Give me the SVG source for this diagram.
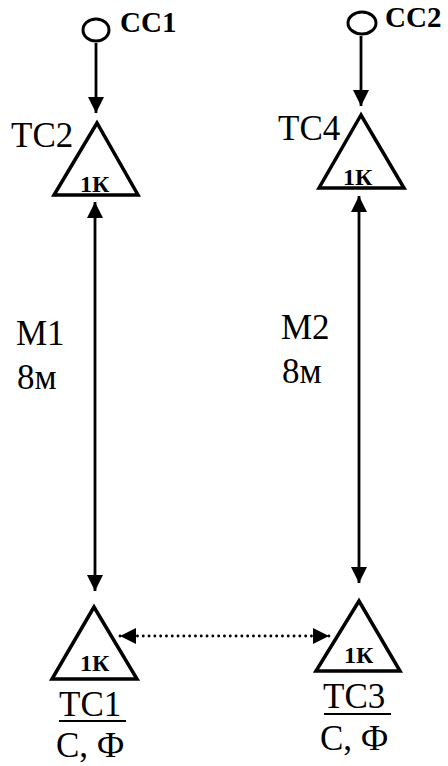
<svg xmlns="http://www.w3.org/2000/svg" width="448" height="766" viewBox="0 0 448 766">
<defs>
<marker id="ah" viewBox="0 0 16 16" refX="16" refY="8" markerWidth="16" markerHeight="16" markerUnits="userSpaceOnUse" orient="auto-start-reverse">
<path d="M0,0 L16,8 L0,16 Z" fill="#000"/>
</marker>
</defs>
<style>
.tri{fill:#fff;stroke:#000;stroke-width:3.5;stroke-linejoin:miter}
.src{fill:none;stroke:#000;stroke-width:3}
.ln{stroke:#000;stroke-width:2.8;fill:none}
.dot{stroke:#000;stroke-width:2.8;fill:none;stroke-dasharray:0.1 5.7;stroke-linecap:round}
text{font-family:'Liberation Serif','DejaVu Serif',serif;fill:#000}
.t{font-size:35px}
.b{font-weight:bold}
.k{font-size:24px}
.c{font-size:29px}
.u{stroke:#000;stroke-width:2}
</style>
<rect width="448" height="766" fill="#fff"/>
<g id="connectors">
<line class="ln" x1="96" y1="43" x2="96" y2="113" marker-end="url(#ah)"/>
<line class="ln" x1="361" y1="36" x2="361" y2="106" marker-end="url(#ah)"/>
<line class="ln" x1="95" y1="202" x2="95" y2="591" marker-start="url(#ah)" marker-end="url(#ah)"/>
<line class="ln" x1="359" y1="196" x2="359" y2="583" marker-start="url(#ah)" marker-end="url(#ah)"/>
<line class="dot" x1="120" y1="636" x2="329" y2="636" marker-start="url(#ah)" marker-end="url(#ah)"/>
</g>
<g id="CC1">
<ellipse class="src" cx="96" cy="30" rx="13" ry="11"/>
<text class="b c" x="120" y="32" font-family="Liberation Serif, serif">CC1</text>
</g>
<g id="CC2">
<ellipse class="src" cx="362" cy="23" rx="14" ry="11"/>
<text class="b c" x="385" y="27" font-family="Liberation Serif, serif">CC2</text>
</g>
<g id="TC2">
<polygon class="tri" points="97,123 54,195 138,195"/>
<text class="b k" x="80" y="192" font-family="Liberation Serif, serif">1К</text>
<text class="t" x="11" y="147" font-family="Liberation Serif, serif">TC2</text>
</g>
<g id="TC4">
<polygon class="tri" points="361,115 319,188 404,188"/>
<text class="b k" x="343" y="185" font-family="Liberation Serif, serif">1К</text>
<text class="t" x="278" y="140" font-family="Liberation Serif, serif">TC4</text>
</g>
<g id="TC1">
<polygon class="tri" points="94,607 52,679 137,679"/>
<text class="b k" x="80" y="671" font-family="Liberation Serif, serif">1К</text>
<text class="t" x="59" y="716" font-family="Liberation Serif, serif">TC1</text>
<line class="u" x1="59" y1="721" x2="126" y2="721"/>
<text class="t" x="56" y="757" font-family="Liberation Serif, serif">С, Ф</text>
</g>
<g id="TC3">
<polygon class="tri" points="359,601 316,671 400,671"/>
<text class="b k" x="344" y="663" font-family="Liberation Serif, serif">1К</text>
<text class="t" x="323" y="708" font-family="Liberation Serif, serif">TC3</text>
<line class="u" x1="324" y1="714" x2="391" y2="714"/>
<text class="t" x="320" y="750" font-family="Liberation Serif, serif">С, Ф</text>
</g>
<g id="labels">
<text class="t" x="16" y="345" font-family="Liberation Serif, serif">M1</text>
<text class="t" x="17" y="389" font-family="Liberation Serif, serif">8м</text>
<text class="t" x="281" y="339" font-family="Liberation Serif, serif">M2</text>
<text class="t" x="282" y="383" font-family="Liberation Serif, serif">8м</text>
</g>
</svg>
